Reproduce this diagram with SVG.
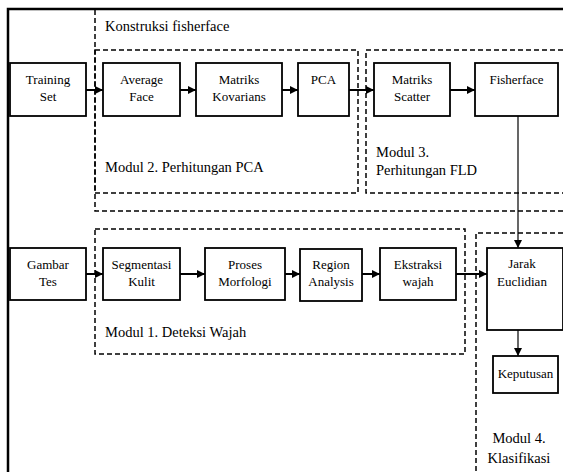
<svg xmlns="http://www.w3.org/2000/svg" width="563" height="472" viewBox="0 0 563 472">
  <style>
    .frame { fill: none; stroke: #000; stroke-width: 2.5; }
    .group { fill: none; stroke: #000; stroke-width: 1.5; stroke-dasharray: 5 3; }
    .box { fill: #fff; stroke: #000; stroke-width: 1.8; }
    .lbl { font-family: "Liberation Serif", "Times New Roman", serif; font-size: 13px; fill: #000; text-anchor: middle; }
    .cap { font-family: "Liberation Serif", "Times New Roman", serif; font-size: 14.5px; fill: #000; }
    .link { fill: none; stroke: #000; stroke-width: 2; }
    .thin { fill: none; stroke: #000; stroke-width: 1.2; }
  </style>
  <defs>
    <marker id="arrow" viewBox="0 0 10 10" refX="10" refY="5" markerWidth="9" markerHeight="8" markerUnits="userSpaceOnUse" orient="auto">
      <path d="M0,0 L10,5 L0,10 z" fill="#000"/>
    </marker>
  </defs>

  <rect width="563" height="472" fill="#fff"/>

  <!-- outer frame -->
  <path class="frame" d="M8,472 V9 H563"/>

  <!-- module groupings -->
  <g id="konstruksi">
    <path class="group" d="M95,10 V211 H563"/>
    <text class="cap" x="105" y="31">Konstruksi fisherface</text>
  </g>
  <g id="modul2">
    <path class="group" d="M95,50 H358 V193 H95 Z"/>
    <text class="cap" x="105" y="172">Modul 2. Perhitungan PCA</text>
  </g>
  <g id="modul3">
    <path class="group" d="M563,50 H366 V193 H563"/>
    <text class="cap" x="376" y="157">Modul 3.</text>
    <text class="cap" x="376" y="175">Perhitungan FLD</text>
  </g>
  <g id="modul1">
    <path class="group" d="M95,229 H465 V354 H95 Z"/>
    <text class="cap" x="105" y="337">Modul 1. Deteksi Wajah</text>
  </g>
  <g id="modul4">
    <path class="group" d="M563,233 H476 V472"/>
    <text class="cap" x="519" y="443" text-anchor="middle">Modul 4.</text>
    <text class="cap" x="519" y="463" text-anchor="middle">Klasifikasi</text>
  </g>

  <!-- connectors -->
  <g id="connectors">
    <line class="link" x1="86" y1="90" x2="103" y2="90" marker-end="url(#arrow)"/>
    <line class="link" x1="180" y1="90" x2="196" y2="90" marker-end="url(#arrow)"/>
    <line class="link" x1="282" y1="90" x2="298" y2="90" marker-end="url(#arrow)"/>
    <line class="link" x1="349" y1="90" x2="374" y2="90" marker-end="url(#arrow)"/>
    <line class="link" x1="450" y1="90" x2="475" y2="90" marker-end="url(#arrow)"/>
    <line class="thin" x1="518" y1="115" x2="518" y2="248" marker-end="url(#arrow)"/>
    <line class="link" x1="86" y1="274" x2="103" y2="274" marker-end="url(#arrow)"/>
    <line class="link" x1="180" y1="274" x2="205" y2="274" marker-end="url(#arrow)"/>
    <line class="link" x1="285" y1="274" x2="300" y2="274" marker-end="url(#arrow)"/>
    <line class="link" x1="362" y1="274" x2="380" y2="274" marker-end="url(#arrow)"/>
    <line class="link" x1="456" y1="274" x2="487" y2="274" marker-end="url(#arrow)"/>
    <line class="thin" x1="518" y1="330" x2="518" y2="356" marker-end="url(#arrow)"/>
  </g>

  <!-- nodes -->
  <g id="training-set">
    <rect class="box" x="10" y="63" width="76" height="53"/>
    <text class="lbl" x="48" y="84">Training</text>
    <text class="lbl" x="48" y="101">Set</text>
  </g>
  <g id="average-face">
    <rect class="box" x="103" y="63" width="77" height="53"/>
    <text class="lbl" x="141.5" y="84">Average</text>
    <text class="lbl" x="141.5" y="101">Face</text>
  </g>
  <g id="matriks-kovarians">
    <rect class="box" x="196" y="63" width="86" height="53"/>
    <text class="lbl" x="239" y="84">Matriks</text>
    <text class="lbl" x="239" y="101">Kovarians</text>
  </g>
  <g id="pca">
    <rect class="box" x="298" y="63" width="51" height="53"/>
    <text class="lbl" x="323.5" y="84">PCA</text>
  </g>
  <g id="matriks-scatter">
    <rect class="box" x="374" y="63" width="76" height="53"/>
    <text class="lbl" x="412" y="84">Matriks</text>
    <text class="lbl" x="412" y="101">Scatter</text>
  </g>
  <g id="fisherface">
    <rect class="box" x="475" y="63" width="83" height="53"/>
    <text class="lbl" x="516.5" y="84">Fisherface</text>
  </g>
  <g id="gambar-tes">
    <rect class="box" x="10" y="248" width="76" height="52"/>
    <text class="lbl" x="48" y="269">Gambar</text>
    <text class="lbl" x="48" y="286">Tes</text>
  </g>
  <g id="segmentasi-kulit">
    <rect class="box" x="103" y="248" width="77" height="52"/>
    <text class="lbl" x="141.5" y="269">Segmentasi</text>
    <text class="lbl" x="141.5" y="286">Kulit</text>
  </g>
  <g id="proses-morfologi">
    <rect class="box" x="205" y="248" width="80" height="52"/>
    <text class="lbl" x="245" y="269">Proses</text>
    <text class="lbl" x="245" y="286">Morfologi</text>
  </g>
  <g id="region-analysis">
    <rect class="box" x="300" y="249" width="62" height="52"/>
    <text class="lbl" x="331" y="269">Region</text>
    <text class="lbl" x="331" y="286">Analysis</text>
  </g>
  <g id="ekstraksi-wajah">
    <rect class="box" x="380" y="248" width="76" height="52"/>
    <text class="lbl" x="418" y="269">Ekstraksi</text>
    <text class="lbl" x="418" y="286">wajah</text>
  </g>
  <g id="jarak-euclidian">
    <rect class="box" x="487" y="248" width="76" height="82"/>
    <text class="lbl" x="522" y="268">Jarak</text>
    <text class="lbl" x="522" y="286">Euclidian</text>
  </g>
  <g id="keputusan">
    <rect class="box" x="493" y="356" width="65" height="37"/>
    <text class="lbl" x="525.5" y="378">Keputusan</text>
  </g>
</svg>
